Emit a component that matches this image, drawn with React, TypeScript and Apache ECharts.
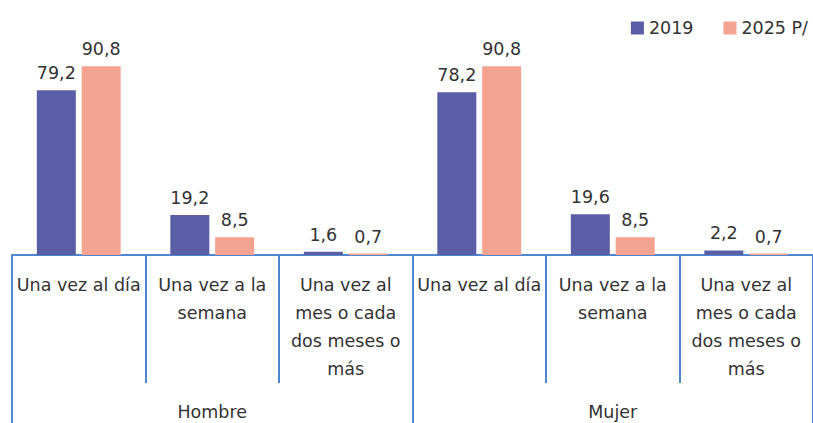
import React, { useEffect, useRef } from "react";
import * as echarts from "echarts";

const categories = [
  "Una vez al día",
  "Una vez a la\nsemana",
  "Una vez al\nmes o cada\ndos meses o\nmás",
  "Una vez al día",
  "Una vez a la\nsemana",
  "Una vez al\nmes o cada\ndos meses o\nmás",
];
const groups = ["Hombre", "Mujer"];
const values2019 = [79.2, 19.2, 1.6, 78.2, 19.6, 2.2];
const values2025 = [90.8, 8.5, 0.7, 90.8, 8.5, 0.7];
const seriesNames = ["2019", "2025 P/"];

const FONT = "'DejaVu Sans', sans-serif";
const FS = 17.5;
const AXIS_COLOR = "#4f86d0";

export default function App() {
  const ref = useRef<HTMLDivElement>(null);
  useEffect(() => {
    if (!ref.current) return;
    const chart = echarts.init(ref.current, null, { renderer: "svg" });
    const fmt = (p: any) => String(p.value).replace(".", ",");
    chart.setOption({
      animation: false,
      textStyle: { fontFamily: FONT },
      legend: {
        data: seriesNames,
        right: 0,
        top: 14,
        itemWidth: 13,
        itemHeight: 13,
        itemGap: 30,
        icon: "rect",
        textStyle: { fontSize: FS, color: "#333", fontFamily: FONT },
      },
      grid: { left: 12, right: -3, top: 47, bottom: 168 },
      xAxis: [
        {
          type: "category",
          data: categories,
          position: "bottom",
          axisLine: { show: true, lineStyle: { color: AXIS_COLOR, width: 2 } },
          axisTick: {
            show: true,
            interval: 0,
            length: 128,
            lineStyle: { color: AXIS_COLOR, width: 2 },
          },
          axisLabel: {
            interval: 0,
            margin: 16,
            fontSize: FS,
            lineHeight: 28,
            color: "#333",
            fontFamily: FONT,
          },
        },
        {
          type: "category",
          data: groups,
          position: "bottom",
          axisLine: { show: false },
          axisTick: {
            show: true,
            interval: 0,
            length: 170,
            lineStyle: { color: AXIS_COLOR, width: 2 },
          },
          axisLabel: {
            interval: 0,
            margin: 148,
            fontSize: FS,
            color: "#333",
            fontFamily: FONT,
          },
        },
      ],
      yAxis: { type: "value", min: 0, max: 100, show: false },
      series: [
        {
          name: seriesNames[0],
          type: "bar",
          data: values2019,
          barWidth: 39,
          barGap: "15%",
          itemStyle: { color: "#5a5ea6" },
          label: { show: true, position: "top", distance: 8, formatter: fmt, fontSize: FS, color: "#333", fontFamily: FONT },
        },
        {
          name: seriesNames[1],
          type: "bar",
          data: values2025,
          barWidth: 39,
          barGap: "15%",
          itemStyle: { color: "#f4a390" },
          label: { show: true, position: "top", distance: 8, formatter: fmt, fontSize: FS, color: "#333", fontFamily: FONT },
        },
      ],
    });
    return () => chart.dispose();
  }, []);
  return (
    <div
      ref={ref}
      style={{ position: "absolute", left: 0, top: 0, width: 813, height: 423, background: "#fff" }}
    />
  );
}
